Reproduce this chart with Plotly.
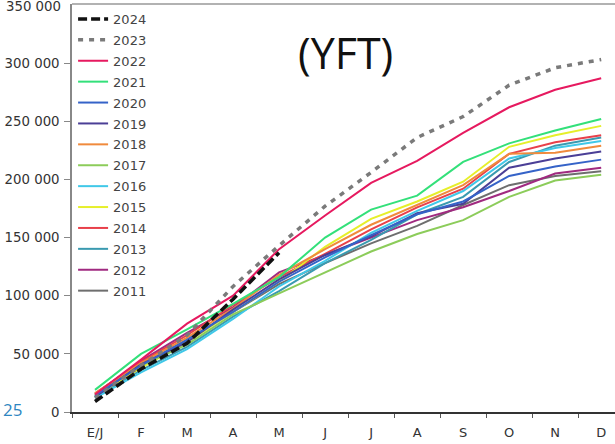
import plotly.graph_objects as go

months = ["E/J", "F", "M", "A", "M ", "J", "J ", "A ", "S", "O", "N", "D"]
month_labels = ["E/J", "F", "M", "A", "M", "J", "J", "A", "S", "O", "N", "D"]

years = ["2024", "2023", "2022", "2021", "2020", "2019", "2018",
         "2017", "2016", "2015", "2014", "2013", "2012", "2011"]

y2024 = [9000, 37000, 59000, 97000, 137000]
y2023 = [12000, 40000, 66000, 108000, 143000, 177000, 206000, 236000, 254000, 281000, 296000, 303000]
y2022 = [15000, 45000, 76000, 100000, 140000, 169000, 197000, 216000, 240000, 262000, 277000, 287000]
y2021 = [19000, 50000, 71000, 93000, 116000, 150000, 174000, 186000, 215000, 231000, 242000, 252000]
y2020 = [14000, 40000, 62000, 86000, 112000, 133000, 152000, 170000, 181000, 203000, 211000, 217000]
y2019 = [13000, 41000, 60000, 88000, 114000, 135000, 151000, 171000, 179000, 210000, 218000, 224000]
y2018 = [16000, 42000, 64000, 89000, 118000, 140000, 161000, 178000, 195000, 222000, 223000, 229000]
y2017 = [15000, 40000, 58000, 84000, 102000, 120000, 138000, 153000, 165000, 185000, 199000, 204000]
y2016 = [12000, 34000, 54000, 80000, 108000, 130000, 154000, 173000, 190000, 218000, 227000, 233000]
y2015 = [14000, 38000, 60000, 86000, 112000, 142000, 166000, 181000, 198000, 228000, 238000, 246000]
y2014 = [16000, 43000, 66000, 92000, 116000, 136000, 157000, 176000, 192000, 222000, 232000, 238000]
y2013 = [13000, 36000, 56000, 82000, 104000, 128000, 148000, 170000, 185000, 215000, 229000, 236000]
y2012 = [15000, 44000, 68000, 90000, 120000, 135000, 150000, 165000, 176000, 190000, 205000, 210000]
y2011 = [14000, 40000, 62000, 86000, 110000, 128000, 145000, 160000, 178000, 195000, 203000, 207000]

series = [y2024, y2023, y2022, y2021, y2020, y2019, y2018,
          y2017, y2016, y2015, y2014, y2013, y2012, y2011]

colors = ["#111111", "#7a7a7a", "#e6195f", "#33e07a", "#3563c8", "#4b3f96", "#f08a3c",
          "#8ccc5a", "#40c8e8", "#e6ef2a", "#e8404a", "#3a9ab0", "#a02a80", "#6e6e6e"]

yticks = [0, 50000, 100000, 150000, 200000, 250000, 300000]
ytick_text = ["0", "50 000", "100 000", "150 000", "200 000", "250 000", "300 000"]
ytop_value = 350000
ytop_text = "350 000"

fig = go.Figure()

# add oldest first so recent years are drawn on top
for i in reversed(range(len(years))):
    vals = series[i]
    if years[i] == "2024":
        line = dict(color=colors[i], width=3.5, dash="9px,4px")
    elif years[i] == "2023":
        line = dict(color=colors[i], width=3.5, dash="5px,6px")
    else:
        line = dict(color=colors[i], width=2)
    fig.add_trace(go.Scatter(
        x=months[:len(vals)], y=vals, mode="lines", name=years[i],
        line=line, legendrank=i + 1, legendgroup=years[i],
    ))

fig.update_layout(
    width=615, height=444,
    margin=dict(l=72, r=0, t=4, b=32, autoexpand=False),
    paper_bgcolor="white", plot_bgcolor="white",
    font=dict(family="DejaVu Sans", size=12, color="#333333"),
    showlegend=True,
    legend=dict(x=0.002, y=1.0, xanchor="left", yanchor="top",
                bgcolor="rgba(0,0,0,0)", font=dict(family="DejaVu Sans", size=13, color="#444444"),
                tracegroupgap=1, itemwidth=30),
    xaxis=dict(type="category", categoryorder="array", categoryarray=months,
               tickvals=months, ticktext=month_labels,
               range=[-0.5, 11.3], showgrid=False, zeroline=False,
               showline=True, linecolor="#333333", linewidth=1.5,
               ticks="outside", ticklen=4, tickcolor="#555555", tickson="boundaries",
               ticklabelstandoff=8,
               tickfont=dict(family="DejaVu Sans", size=13, color="#333333")),
    yaxis=dict(range=[0, 350800], tickvals=yticks, ticktext=ytick_text,
               showgrid=False, zeroline=False,
               showline=True, linecolor="#888888", linewidth=1.5,
               ticks="outside", ticklen=6, tickcolor="#888888",
               ticklabelstandoff=2,
               tickfont=dict(family="DejaVu Sans", size=13.3, color="#333333")),
    shapes=[dict(type="line", xref="paper", yref="paper", x0=0, x1=1, y0=1, y1=1,
                 line=dict(color="#999999", width=1.5))],
    annotations=[
        dict(text=ytop_text, xref="paper", yref="y", x=0, y=ytop_value,
             xanchor="right", yanchor="middle", xshift=-9, yshift=-2, showarrow=False,
             font=dict(family="DejaVu Sans", size=13.3, color="#333333")),
        dict(text="(YFT)", xref="paper", yref="paper", x=(345 - 72) / 543, y=(412 - 52) / 408,
             xanchor="center", yanchor="middle", showarrow=False,
             font=dict(family="Open Sans", size=43, color="#111111")),
        dict(text="25", xref="paper", yref="paper", x=(1 - 72) / 543, y=(412 - 409) / 408,
             xanchor="left", yanchor="middle", showarrow=False,
             font=dict(family="Open Sans", size=17, color="#2e86c1")),
    ],
)

fig.write_html("out.html", config={"displayModeBar": False},
               post_script="document.body.style.margin='0';")
